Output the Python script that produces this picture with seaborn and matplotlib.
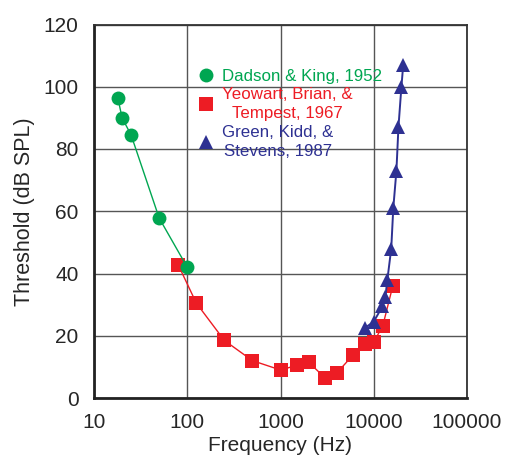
import matplotlib
matplotlib.use("Agg")
import matplotlib.pyplot as plt
import matplotlib.ticker as mticker
import numpy as np
import pandas as pd
import seaborn as sns

# Threshold data
dadson_freq = [18, 20, 25, 50, 100]
dadson_thr = [96.5, 90, 84.5, 57.8, 42]

yeowart_freq = [80, 125, 250, 500, 1000, 1500, 2000, 3000, 4000, 6000, 8000, 10000, 12500, 16000]
yeowart_thr = [42.8, 30.5, 18.5, 12, 9, 10.5, 11.5, 6.5, 8, 13.8, 17.5, 18, 23.2, 36]

green_freq = [8000, 10000, 12400, 13300, 14000, 15400, 16200, 17500, 18400, 19800, 20700]
green_thr = [22.5, 24.5, 29.5, 32.3, 38, 48, 61, 73, 87, 100, 107]

labels = ["Dadson & King, 1952", "Yeowart, Brian, &\nTempest, 1967", "Green, Kidd, &\nStevens, 1987"]
colors = ["#00a651", "#ed1c24", "#2e3192"]

sns.set_style("white")
plt.rcParams["font.family"] = ["Liberation Sans", "DejaVu Sans"]

fig = plt.figure(figsize=(5.14, 4.57), dpi=100)
ax = fig.add_axes([94 / 514, 1 - 398 / 457, (467 - 94) / 514, (398 - 24.5) / 457])

series = [
    (dadson_freq, dadson_thr, labels[0], colors[0], "o", 10, 1.0, 3),
    (yeowart_freq, yeowart_thr, labels[1], colors[1], "s", 10, 1.0, 2),
    (green_freq, green_thr, labels[2], colors[2], "^", 10, 1.4, 4),
]
for f, t, lab, col, mk, ms, lw, z in series:
    df = pd.DataFrame({"freq": f, "thr": t})
    sns.lineplot(data=df, x="freq", y="thr", ax=ax, color=col, marker=mk,
                 markersize=ms, markeredgewidth=0, linewidth=lw, label=lab, zorder=z)

ax.set_xscale("log")
ax.set_xlim(10, 100000)
ax.set_ylim(0, 120)
ax.set_xticks([10, 100, 1000, 10000, 100000])
ax.xaxis.set_major_formatter(mticker.FuncFormatter(lambda v, _: f"{int(round(v))}"))
ax.xaxis.set_minor_locator(mticker.LogLocator(base=10, subs=np.arange(2, 10)))
ax.xaxis.set_minor_formatter(mticker.NullFormatter())
ax.set_yticks(np.arange(0, 121, 20))
ax.yaxis.set_minor_locator(mticker.MultipleLocator(5))

ax.grid(True, which="major", color="#555555", linewidth=1.0)
ax.tick_params(which="major", direction="out", length=8, width=1.2, color="#333333",
               labelsize=15, pad=3)
ax.tick_params(which="minor", direction="out", length=5, width=1.0, color="#555555")
ax.tick_params(top=False, right=False)

for side in ["left", "bottom"]:
    ax.spines[side].set_linewidth(2.0)
    ax.spines[side].set_color("#222222")
for side in ["top", "right"]:
    ax.spines[side].set_linewidth(1.3)
    ax.spines[side].set_color("#333333")

ax.set_xlabel("Frequency (Hz)", fontsize=15, labelpad=3)
ax.set_ylabel("Threshold (dB SPL)", fontsize=15.5, labelpad=6)

leg = ax.legend(loc="upper left", bbox_to_anchor=(0.262, 0.90), frameon=False,
                fontsize=12.2, handlelength=0.9, handletextpad=0.5,
                labelspacing=0.2, borderaxespad=0)
for text, col in zip(leg.get_texts(), colors):
    text.set_color(col)
    text.set_multialignment("center")
    text.set_linespacing(1.35)
for h in leg.legend_handles:
    h.set_linestyle("none")

fig.savefig("out.png", dpi=100)
